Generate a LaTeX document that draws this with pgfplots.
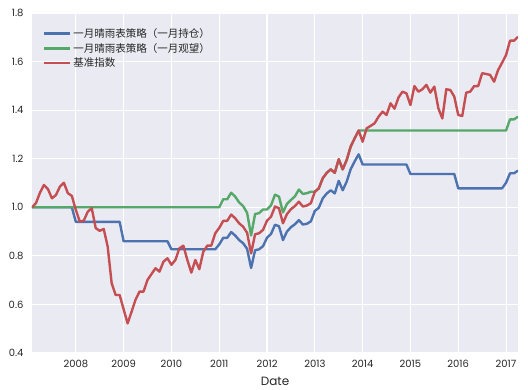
\documentclass[border=0pt]{standalone}
\usepackage{pgfplots}
\pgfplotsset{compat=1.18}
\usepackage{pgfplotstable}
\usepackage{fontspec}
\setmainfont{Poppins}
\newfontfamily\cjk{Noto Sans CJK SC}
\definecolor{sbblue}{HTML}{4C72B0}
\definecolor{sbgreen}{HTML}{55A868}
\definecolor{sbred}{HTML}{C44E52}
\definecolor{sbbg}{HTML}{EAEAF2}
\definecolor{sbtext}{HTML}{262626}

% i = month index (0 = end of Jan 2007), bench = red, hold = blue, wait = green
\pgfplotstableread{
i bench hold wait
0 1.000 1.000 1.000
1 1.017 1.000 1.000
2 1.060 1.000 1.000
3 1.092 1.000 1.000
4 1.075 1.000 1.000
5 1.037 1.000 1.000
6 1.050 1.000 1.000
7 1.085 1.000 1.000
8 1.101 1.000 1.000
9 1.058 1.000 1.000
10 1.047 1.000 1.000
11 0.989 0.940 1.000
12 0.941 0.940 1.000
13 0.945 0.940 1.000
14 0.982 0.940 1.000
15 0.996 0.940 1.000
16 0.914 0.940 1.000
17 0.903 0.940 1.000
18 0.911 0.940 1.000
19 0.838 0.940 1.000
20 0.687 0.940 1.000
21 0.639 0.940 1.000
22 0.639 0.940 1.000
23 0.580 0.860 1.000
24 0.522 0.860 1.000
25 0.570 0.860 1.000
26 0.620 0.860 1.000
27 0.653 0.860 1.000
28 0.653 0.860 1.000
29 0.701 0.860 1.000
30 0.725 0.860 1.000
31 0.749 0.860 1.000
32 0.735 0.860 1.000
33 0.776 0.860 1.000
34 0.790 0.860 1.000
35 0.763 0.827 1.000
36 0.783 0.827 1.000
37 0.831 0.827 1.000
38 0.842 0.827 1.000
39 0.783 0.827 1.000
40 0.731 0.827 1.000
41 0.783 0.827 1.000
42 0.745 0.827 1.000
43 0.817 0.827 1.000
44 0.842 0.827 1.000
45 0.842 0.827 1.000
46 0.893 0.827 1.000
47 0.915 0.847 1.000
48 0.944 0.874 1.033
49 0.944 0.874 1.033
50 0.970 0.898 1.060
51 0.955 0.884 1.044
52 0.934 0.865 1.020
53 0.920 0.852 1.005
54 0.895 0.829 0.977
55 0.810 0.750 0.884
56 0.889 0.823 0.972
57 0.893 0.827 0.976
58 0.907 0.840 0.991
59 0.945 0.875 0.991
60 0.961 0.890 1.008
61 1.003 0.928 1.052
62 0.996 0.922 1.044
63 0.934 0.865 0.979
64 0.972 0.900 1.014
65 0.992 0.918 1.030
66 1.005 0.930 1.045
67 1.023 0.947 1.073
68 1.003 0.929 1.055
69 1.007 0.932 1.058
70 1.017 0.942 1.064
71 1.064 0.985 1.064
72 1.078 0.998 1.078
73 1.120 1.037 1.120
74 1.142 1.057 1.142
75 1.156 1.070 1.156
76 1.142 1.057 1.142
77 1.198 1.109 1.198
78 1.156 1.070 1.156
79 1.195 1.106 1.195
80 1.250 1.157 1.250
81 1.284 1.189 1.284
82 1.316 1.218 1.316
83 1.270 1.176 1.316
84 1.325 1.176 1.316
85 1.335 1.176 1.316
86 1.346 1.176 1.316
87 1.373 1.176 1.316
88 1.394 1.176 1.316
89 1.380 1.176 1.316
90 1.428 1.176 1.316
91 1.406 1.176 1.316
92 1.452 1.176 1.316
93 1.476 1.176 1.316
94 1.469 1.176 1.316
95 1.421 1.137 1.316
96 1.499 1.137 1.316
97 1.476 1.137 1.316
98 1.486 1.137 1.316
99 1.504 1.137 1.316
100 1.472 1.137 1.316
101 1.497 1.137 1.316
102 1.408 1.137 1.316
103 1.366 1.137 1.316
104 1.486 1.137 1.316
105 1.483 1.137 1.316
106 1.456 1.137 1.316
107 1.380 1.078 1.316
108 1.376 1.078 1.316
109 1.472 1.078 1.316
110 1.476 1.078 1.316
111 1.499 1.078 1.316
112 1.499 1.078 1.316
113 1.552 1.078 1.316
114 1.549 1.078 1.316
115 1.545 1.078 1.316
116 1.517 1.078 1.316
117 1.565 1.078 1.316
118 1.595 1.078 1.316
119 1.627 1.101 1.316
120 1.686 1.140 1.362
121 1.686 1.140 1.362
122 1.702 1.151 1.373
}\datatable

\begin{document}
\begin{tikzpicture}
\path[use as bounding box] (-32pt,-37pt) rectangle (496pt,353pt);
\begin{axis}[
  at={(0pt,0pt)}, anchor=south west,
  scale only axis, width=486pt, height=340pt,
  xmin=0, xmax=122, ymin=0.4, ymax=1.8,
  xtick={11,23,35,47,59,71,83,95,107,119},
  xticklabels={2008,2009,2010,2011,2012,2013,2014,2015,2016,2017},
  ytick={0.4,0.6,0.8,1.0,1.2,1.4,1.6,1.8},
  yticklabels={0.4,0.6,0.8,1.0,1.2,1.4,1.6,1.8},
  axis background/.style={fill=sbbg},
  axis line style={draw=none},
  major tick length=0pt,
  grid=major, major grid style={white, line width=1.1pt},
  tick label style={font=\fontsize{10}{12}\selectfont, text=sbtext},
  xticklabel style={yshift=-4pt},
  yticklabel style={xshift=-5pt},
  xlabel={Date}, xlabel style={font=\fontsize{12}{14}\selectfont, text=sbtext, yshift=-2pt},
  legend style={at={(0.016,0.968)}, anchor=north west, draw=none, fill=none,
    font=\cjk\fontsize{10.5}{13}\selectfont, text=sbtext, row sep=0.5pt},
  legend cell align=left,
  legend image code/.code={\draw[#1] (0pt,0pt) -- (23pt,0pt); \path (0pt,0pt) -- (26pt,0pt);},
  every axis plot/.append style={line width=2.4pt, line join=round},
]
\addplot[sbblue] table[x=i, y=hold] {\datatable};
\addlegendentry{一月晴雨表策略（一月持仓）}
\addplot[sbgreen] table[x=i, y=wait] {\datatable};
\addlegendentry{一月晴雨表策略（一月观望）}
\addplot[sbred] table[x=i, y=bench] {\datatable};
\addlegendentry{基准指数}
\end{axis}
\end{tikzpicture}
\end{document}
